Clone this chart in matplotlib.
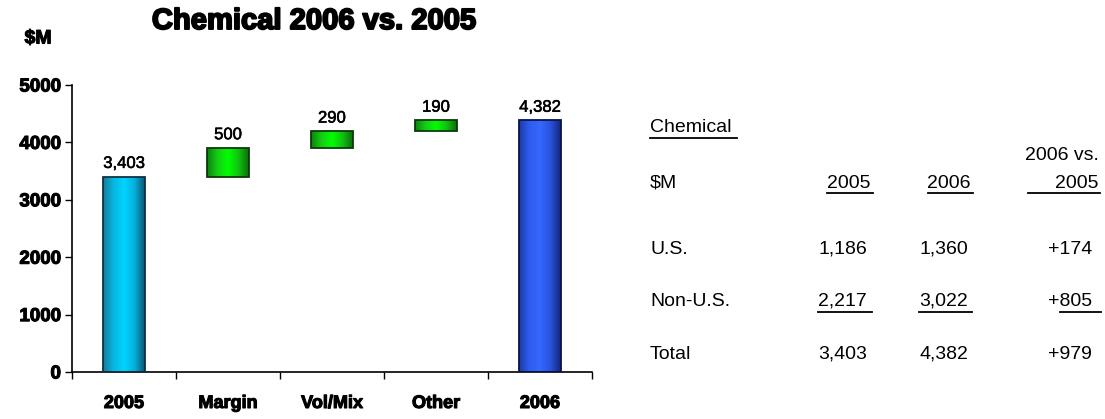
import numpy as np
import matplotlib
matplotlib.use("Agg")
import matplotlib.pyplot as plt
from matplotlib.colors import LinearSegmentedColormap
from matplotlib.patches import Rectangle
from matplotlib.lines import Line2D
import matplotlib.patheffects as pe

# ---- data ----
categories = ["2005", "Margin", "Vol/Mix", "Other", "2006"]
start_total = 3403
changes = [500, 290, 190]
end_total = 4382
bar_labels = ["3,403", "500", "290", "190", "4,382"]

table_title = "Chemical"
table_unit = "$M"
table_cols = ["2005", "2006", "2006 vs.\n2005"]
table_rows = ["U.S.", "Non-U.S.", "Total"]
table_2005 = ["1,186", "2,217", "3,403"]
table_2006 = ["1,360", "3,022", "4,382"]
table_diff = ["+174", "+805", "+979"]

W, H = 1105, 419
fig = plt.figure(figsize=(W / 100, H / 100), dpi=100)
fig.patch.set_facecolor("white")


def P(x, y):
    """Pixel position (from top-left) to figure fraction."""
    return x / W, 1 - y / H


ax = fig.add_axes([72 / W, 47 / H, 520 / W, 287 / H])

cyan_cmap = LinearSegmentedColormap.from_list(
    "cyan", ["#167a9a", "#08b6e0", "#00d4ff", "#08b0dc", "#0a5674"])
blue_cmap = LinearSegmentedColormap.from_list(
    "blue", ["#1c3aa8", "#2f5cf0", "#3468ff", "#2a52dc", "#15267c"])
green_cmap = LinearSegmentedColormap.from_list(
    "green", ["#0b820b", "#16cc16", "#00ff00", "#12c212", "#0a6e0a"])

grad = np.linspace(0, 1, 256).reshape(1, -1)
bar_w = 0.4


def gradient_bar(x, bottom, top, cmap, edge):
    rect = Rectangle((x - bar_w / 2, bottom), bar_w, top - bottom,
                     facecolor="none", edgecolor=edge, lw=1.3, zorder=3)
    ax.add_patch(rect)
    im = ax.imshow(grad, extent=[x - bar_w / 2, x + bar_w / 2, bottom, top],
                   aspect="auto", cmap=cmap, zorder=2, interpolation="bilinear")
    im.set_clip_path(rect)


label_font = dict(family="Liberation Sans", fontsize=12, color="black",
                  ha="center", va="bottom",
                  path_effects=[pe.withStroke(linewidth=0.4, foreground="black")])

# first total
gradient_bar(0, 0, start_total, cyan_cmap, "#0a3344")
ax.text(0, start_total + 100, bar_labels[0], **label_font)

# floating change bars
level = start_total
for i, c in enumerate(changes, start=1):
    gradient_bar(i, level, level + c, green_cmap, "#0a3a0a")
    ax.text(i, level + c + 100, bar_labels[i], **label_font)
    level += c

# final total
gradient_bar(4, 0, end_total, blue_cmap, "#0a1444")
ax.text(4, end_total + 100, bar_labels[4], **label_font)

ax.set_xlim(-0.5, 4.5)
ax.set_ylim(0, 5000)
ax.set_yticks(np.arange(0, 5001, 1000))
ax.set_xticks(np.arange(-0.5, 4.6, 1.0))
ax.set_xticklabels([])
ax.tick_params(axis="both", direction="out", length=5, width=1, color="black")
ax.tick_params(axis="y", labelsize=13.5, pad=3)
for lab in ax.get_yticklabels():
    lab.set_fontweight("bold")
    lab.set_family("Liberation Sans")
    lab.set_path_effects([pe.withStroke(linewidth=0.8, foreground="black")])
for s in ["top", "right"]:
    ax.spines[s].set_visible(False)
for s in ["left", "bottom"]:
    ax.spines[s].set_linewidth(1.2)

for i, cat in enumerate(categories):
    ax.text(i, -400, cat, ha="center", va="top", fontsize=13,
            fontweight="bold", family="Liberation Sans",
            path_effects=[pe.withStroke(linewidth=0.8, foreground="black")])

# title and unit
fig.text(*P(314, 21), "Chemical 2006 vs. 2005", ha="center", va="center",
         fontsize=21, fontweight="bold", family="Liberation Sans",
         path_effects=[pe.withStroke(linewidth=1.4, foreground="black")])
fig.text(*P(38, 39), "$M", ha="center", va="center", fontsize=14,
         fontweight="bold", family="Liberation Sans",
         path_effects=[pe.withStroke(linewidth=0.8, foreground="black")])

# ---- table ----
tfont = dict(family="Liberation Sans", fontsize=14, color="black", va="center")
underlined = []

t = fig.text(*P(650, 128), table_title, ha="left", **tfont)
underlined.append((t, 0, 5))
fig.text(*P(650, 183), table_unit, ha="left", **tfont)

col_x = [870, 971, 1099]
t = fig.text(*P(col_x[0], 183), table_cols[0], ha="right", **tfont)
underlined.append((t, 0, 3))
t = fig.text(*P(col_x[1], 183), table_cols[1], ha="right", **tfont)
underlined.append((t, 0, 2))
top_line, bottom_line = table_cols[2].split("\n")
fig.text(*P(col_x[2], 155), top_line, ha="right", **tfont)
t = fig.text(*P(col_x[2], 183), bottom_line, ha="right", **tfont)
underlined.append((t, 28, 1))

row_y = [249, 301, 354]
for r, (name, a, b, d) in enumerate(zip(table_rows, table_2005, table_2006, table_diff)):
    y = row_y[r]
    fig.text(*P(650, y), name, ha="left", **tfont)
    ta = fig.text(*P(col_x[0] - 3, y), a, ha="right", **tfont)
    tb = fig.text(*P(col_x[1] - 3, y), b, ha="right", **tfont)
    td = fig.text(*P(col_x[2] - 7, y), d, ha="right", **tfont)
    if name == "Non-U.S.":
        underlined.append((ta, 0, 5))
        underlined.append((tb, 0, 4))
        underlined.append((td, -12, 9))

fig.canvas.draw()
renderer = fig.canvas.get_renderer()
for txt, extra_left, extra_right in underlined:
    bb = txt.get_window_extent(renderer)
    y = bb.y0 - 2
    fig.add_artist(Line2D([(bb.x0 - extra_left) / W, (bb.x1 + extra_right) / W],
                          [y / H, y / H], transform=fig.transFigure,
                          color="black", lw=1.3))

fig.savefig("out.png", dpi=100)
